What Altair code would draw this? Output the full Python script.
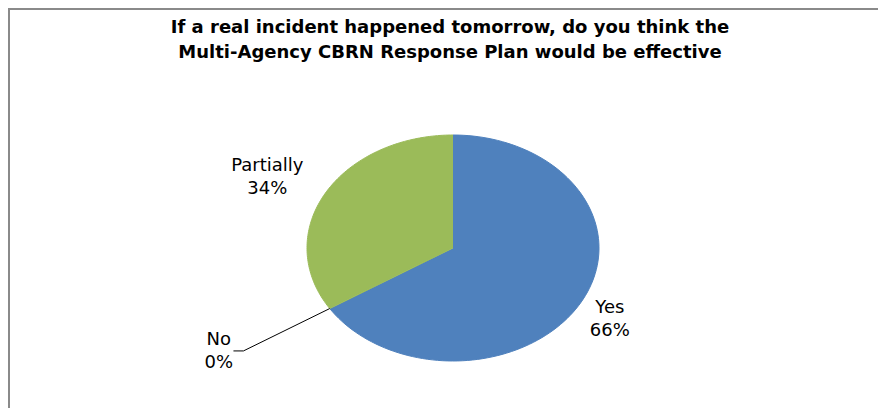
import altair as alt
import pandas as pd

# ---- data ----
categories = ["Yes", "No", "Partially"]
shares = [66, 0, 34]
colors = ["#4F81BD", "#C0504D", "#9BBB59"]
title_lines = [
    "If a real incident happened tomorrow, do you think the",
    "Multi-Agency CBRN Response Plan would be effective",
]

# ---- layout constants (pixels) ----
W, H = 870, 400          # whole drawing area
CX, CY = 445, 240        # pie centre inside the drawing area
RX, RY = 146, 113        # pie radii (Excel's tilted pie is an ellipse)

df = pd.DataFrame({"category": categories, "share": shares, "idx": list(range(len(categories)))})

xscale = alt.Scale(domain=[-CX, W - CX], nice=False, zero=False)
yscale = alt.Scale(domain=[-(H - CY), CY], nice=False, zero=False)
cscale = alt.Scale(domain=categories, range=colors)

base = (
    alt.Chart(df)
    .transform_joinaggregate(total="sum(share)")
    .transform_window(cum="sum(share)", sort=[alt.SortField("idx")], frame=[None, 0])
    .transform_calculate(a0="(datum.cum - datum.share) / datum.total * 2 * PI")
    .transform_calculate(a1="datum.cum / datum.total * 2 * PI")
    .transform_calculate(amid="(datum.a0 + datum.a1) / 2")
    .transform_calculate(sx="sin(datum.amid)", sy="cos(datum.amid)")
)

# slices as filled polygons (centre + arc points)
pie = (
    base.transform_filter("datum.share > 0")
    .transform_calculate(t="sequence(0, 122)")
    .transform_flatten(["t"])
    .transform_calculate(ang="datum.a0 + (datum.a1 - datum.a0) * (datum.t - 1) / 120")
    .transform_calculate(
        px=f"datum.t == 0 ? 0 : {RX} * sin(datum.ang)",
        py=f"datum.t == 0 ? 0 : {RY} * cos(datum.ang)",
    )
    .mark_line(filled=True, strokeWidth=1, interpolate="linear")
    .encode(
        x=alt.X("px:Q", scale=xscale, axis=None),
        y=alt.Y("py:Q", scale=yscale, axis=None),
        color=alt.Color("category:N", scale=cscale, legend=None),
        stroke=alt.Stroke("category:N", scale=cscale, legend=None),
        order=alt.Order("t:Q"),
    )
)

# leader line for tiny slices
leader = (
    base.transform_filter("datum.share / datum.total < 0.02")
    .transform_calculate(t="sequence(0, 3)")
    .transform_flatten(["t"])
    .transform_calculate(
        px=f"datum.t == 0 ? {RX} * datum.sx : (datum.t == 1 ? 1.7 * {RX} * datum.sx : 1.7 * {RX} * datum.sx + (datum.sx < 0 ? -10 : 10))",
        py=f"datum.t == 0 ? {RY} * datum.sy : 1.7 * {RY} * datum.sy",
    )
    .mark_line(color="black", strokeWidth=1)
    .encode(
        x=alt.X("px:Q", scale=xscale, axis=None),
        y=alt.Y("py:Q", scale=yscale, axis=None),
        order=alt.Order("t:Q"),
    )
)

# data labels
labels = (
    base.transform_calculate(
        small="datum.share / datum.total < 0.02",
        label="datum.category + '\\n' + datum.share + '%'",
        halfw="max(length(datum.category), length(datum.share + '%')) * 4.8",
        side="datum.sx < 0 ? -1 : 1",
    )
    .transform_calculate(
        lx=f"datum.small ? 1.7 * {RX} * datum.sx + datum.side * (15 + datum.halfw) : 1.09 * {RX} * datum.sx + datum.side * (datum.halfw + 3)",
        ly=f"datum.small ? 1.7 * {RY} * datum.sy : 1.3 * {RY} * datum.sy",
    )
    .mark_text(lineBreak="\n", font="DejaVu Sans", fontSize=18, lineHeight=23,
               baseline="middle", align="center", color="#000000", dy=-11)
    .encode(
        x=alt.X("lx:Q", scale=xscale, axis=None),
        y=alt.Y("ly:Q", scale=yscale, axis=None),
        text="label:N",
    )
)

single = alt.Data(values=[{"k": 0}])

title = alt.Chart(single).mark_text(
    lineBreak="\n", font="DejaVu Sans", fontWeight="bold", fontSize=18, lineHeight=25,
    baseline="alphabetic", align="center", color="#000000",
).encode(x=alt.value(442), y=alt.value(25), text=alt.value("\n".join(title_lines)))

border_top = alt.Chart(single).mark_rule(color="#8a8a8a", strokeWidth=2).encode(
    x=alt.value(0), x2=alt.value(W), y=alt.value(1)
)
border_left = alt.Chart(single).mark_rule(color="#8a8a8a", strokeWidth=2).encode(
    y=alt.value(0), y2=alt.value(H), x=alt.value(1)
)

chart = (
    alt.layer(border_top, border_left, pie, leader, labels, title)
    .properties(width=W, height=H, autosize="none", padding=0, background="white")
    .configure_view(stroke=None)
)

chart.save("out.html", embed_options={"renderer": "svg", "actions": False})
